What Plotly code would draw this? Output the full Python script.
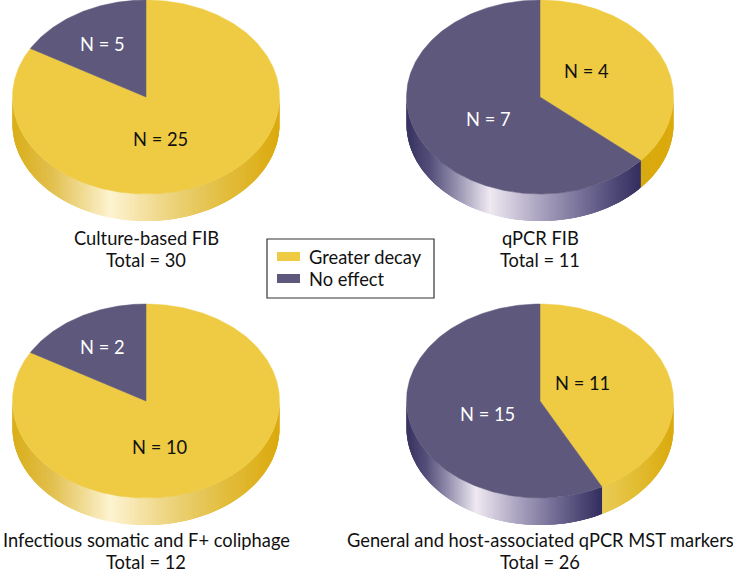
import math
import plotly.graph_objects as go

# ---- data ----
categories = ["Greater decay", "No effect"]
culture_fib = [25, 5]
qpcr_fib = [4, 7]
coliphage = [10, 2]
qpcr_mst = [11, 15]
titles = ["Culture-based FIB", "qPCR FIB",
          "Infectious somatic and F+ coliphage",
          "General and host-associated qPCR MST markers"]
series = [culture_fib, qpcr_fib, coliphage, qpcr_mst]

# ---- layout / style ----
W, H = 733, 571
centers = [(146, 97), (540, 97), (146, 401), (540, 401)]
RX, RY, DEPTH = 133.5, 97, 27
TOP = ["#EECB42", "#5E587C"]
YELLOW = [(0, "#D9AE18"), (.15, "#E2C050"), (.367, "#FDF3D0"), (.6, "#ECD27A"), (.8, "#E2BD3C"), (1, "#DBA90D")]
PURPLE = [(0, "#37325F"), (.1, "#544F7A"), (.2, "#8D88A8"), (.356, "#EFE9F2"), (.55, "#B0A9C4"),
          (.75, "#756F97"), (.9, "#4B4674"), (1, "#332E5E")]
YELLOW_SHORT = {1: [(0, "#D9AA10"), (1, "#DBAA0D")], 3: [(0, "#E9CB55"), (.5, "#E2BC32"), (1, "#DBAA0D")]}
labels = [[(160, 139, "#111"), (102, 44, "#fff")], [(586, 71, "#111"), (488, 119, "#fff")],
          [(160, 447, "#111"), (102, 347, "#fff")], [(582, 383, "#111"), (487, 414, "#fff")]]
FONT = "Lato, 'Noto Sans', sans-serif"
FS = 18.3
LEGEND_BOX = (267, 239, 434, 298)
LEGEND_ROWS = [(252, 261, 257), (274, 283, 279)]


def rgb(h):
    return [int(h[i:i + 2], 16) for i in (1, 3, 5)]


def grad(stops, t):
    t = min(1, max(0, t))
    for (a, ca), (b, cb) in zip(stops, stops[1:]):
        if t <= b:
            f = (t - a) / (b - a)
            c = [round(p + (q - p) * f) for p, q in zip(rgb(ca), rgb(cb))]
            return f"rgb({c[0]},{c[1]},{c[2]})"
    return stops[-1][1]


def pt(c, th, dy=0):
    r = math.radians(th)
    return c[0] + RX * math.sin(r), c[1] - RY * math.cos(r) + dy


fig = go.Figure()
STEP = 0.75
for i, vals in enumerate(series):
    c = centers[i]
    total = sum(vals)
    spans, a = [], 0
    for v in vals:
        spans.append((a, a + v / total * 360))
        a += v / total * 360
    # extruded rim: front half only, painted in order so strips overlap without seams
    for k, (s, e) in enumerate(spans):
        lo, hi = max(s, 90), min(e, 270)
        if hi <= lo:
            continue
        xa, xb = sorted((pt(c, lo)[0], pt(c, hi)[0]))
        stops = PURPLE if k == 1 else YELLOW_SHORT.get(i, YELLOW)
        n = max(2, int((hi - lo) / STEP))
        for j in range(n):
            t0 = lo + (hi - lo) * j / n
            t1 = min(hi, t0 + 3 * (hi - lo) / n)
            tm = t0 + (hi - lo) / n / 2
            col = grad(stops, (pt(c, tm)[0] - xa) / (xb - xa))
            arc = [t0, (t0 + t1) / 2, t1]
            up = [pt(c, t) for t in arc]
            dn = [pt(c, t, DEPTH) for t in reversed(arc)]
            ring = up + dn + up[:1]
            fig.add_trace(go.Scatter(x=[p[0] for p in ring], y=[p[1] for p in ring],
                                     mode="lines", fill="toself", fillcolor=col,
                                     line=dict(width=0), hoverinfo="skip", showlegend=False))
    # top face
    for k, (s, e) in enumerate(spans):
        n = max(2, int(e - s))
        pts = [pt(c, s + (e - s) * j / n) for j in range(n + 1)]
        xs = [c[0]] + [p[0] for p in pts] + [c[0]]
        ys = [c[1]] + [p[1] for p in pts] + [c[1]]
        fig.add_trace(go.Scatter(x=xs, y=ys, mode="lines", fill="toself", fillcolor=TOP[k],
                                 line=dict(color=TOP[k], width=0.5),
                                 name=categories[k], showlegend=False, hoverinfo="name"))

annots = []
for i, vals in enumerate(series):
    for k, v in enumerate(vals):
        x, y, col = labels[i][k]
        annots.append(dict(x=x, y=y, text=f"N = {v}", showarrow=False,
                           font=dict(color=col, size=FS, family=FONT)))
    cx = centers[i][0]
    yt = 238 if i < 2 else 540
    annots.append(dict(x=cx, y=yt, text=titles[i], showarrow=False, font=dict(color="#111", size=FS, family=FONT)))
    annots.append(dict(x=cx, y=yt + 22, text=f"Total = {sum(vals)}", showarrow=False, font=dict(color="#111", size=FS, family=FONT)))

# legend box drawn in pixel space
shapes = [dict(type="rect", x0=LEGEND_BOX[0], y0=LEGEND_BOX[1], x1=LEGEND_BOX[2], y1=LEGEND_BOX[3],
               line=dict(color="#333", width=1.2), fillcolor="white", layer="above")]
for k, (y0, y1, ym) in enumerate(LEGEND_ROWS):
    shapes.append(dict(type="rect", x0=277, x1=300, y0=y0, y1=y1, fillcolor=TOP[k], line=dict(width=0), layer="above"))
    annots.append(dict(x=307, y=ym, text=categories[k], xanchor="left", showarrow=False,
                       font=dict(color="#111", size=FS, family=FONT)))

fig.update_layout(
    width=W, height=H, margin=dict(l=0, r=0, t=0, b=0),
    paper_bgcolor="white", plot_bgcolor="white", showlegend=False,
    xaxis=dict(range=[0, W], visible=False, fixedrange=True),
    yaxis=dict(range=[H, 0], visible=False, fixedrange=True),
    annotations=annots, shapes=shapes,
)
fig.write_html("out.html", config=dict(displayModeBar=False),
               post_script="document.body.style.margin='0';")
